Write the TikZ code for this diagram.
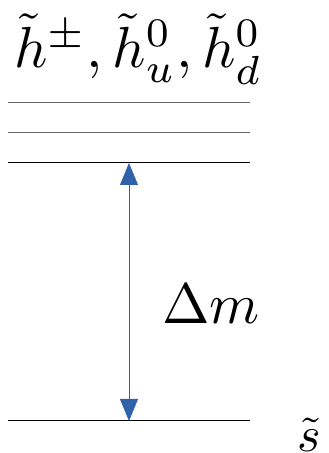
\documentclass[tikz,border=0pt]{standalone}
\usepackage{amsmath,amssymb}
\usepackage{tikz}
\usetikzlibrary{arrows.meta,positioning}
\definecolor{gapblue}{RGB}{47,98,168}

\begin{document}
\begin{tikzpicture}[
    x=1pt, y=1pt,
    level/.style={line width=1pt, draw=black},
    sublevel/.style={line width=1pt, draw=black!60},
    gap/.style={draw=gapblue, line width=0.8pt,
      {Triangle[width=18pt,length=22pt,fill=gapblue]}-{Triangle[width=18pt,length=22pt,fill=gapblue]}},
    particle/.style={inner sep=0pt, anchor=base west}
  ]
  \useasboundingbox (0,0) rectangle (329,453);

  %% --- higgsino levels ---
  \draw[sublevel] (8,350) -- (250,350);
  \draw[sublevel] (8,320) -- (250,320);
  \draw[level] (8,290) -- (250,290);
  \node[particle, scale=5.8] (higgsino) at (13,385)
    {$\tilde h^{\pm},\tilde h_u^0,\tilde h_d^0$};

  %% --- singlino level ---
  \draw[level] (8,32) -- (250,32);
  \node[particle, scale=5.0] (singlino) at (296,2) {$\tilde s$};

  %% --- mass gap ---
  \coordinate (up) at (129,290);
  \coordinate (down) at (129,32);
  \draw[gap] (up) -- (down);
  \node[particle, scale=5.7] (dm) at (161,130) {$\Delta m$};
\end{tikzpicture}
\end{document}
